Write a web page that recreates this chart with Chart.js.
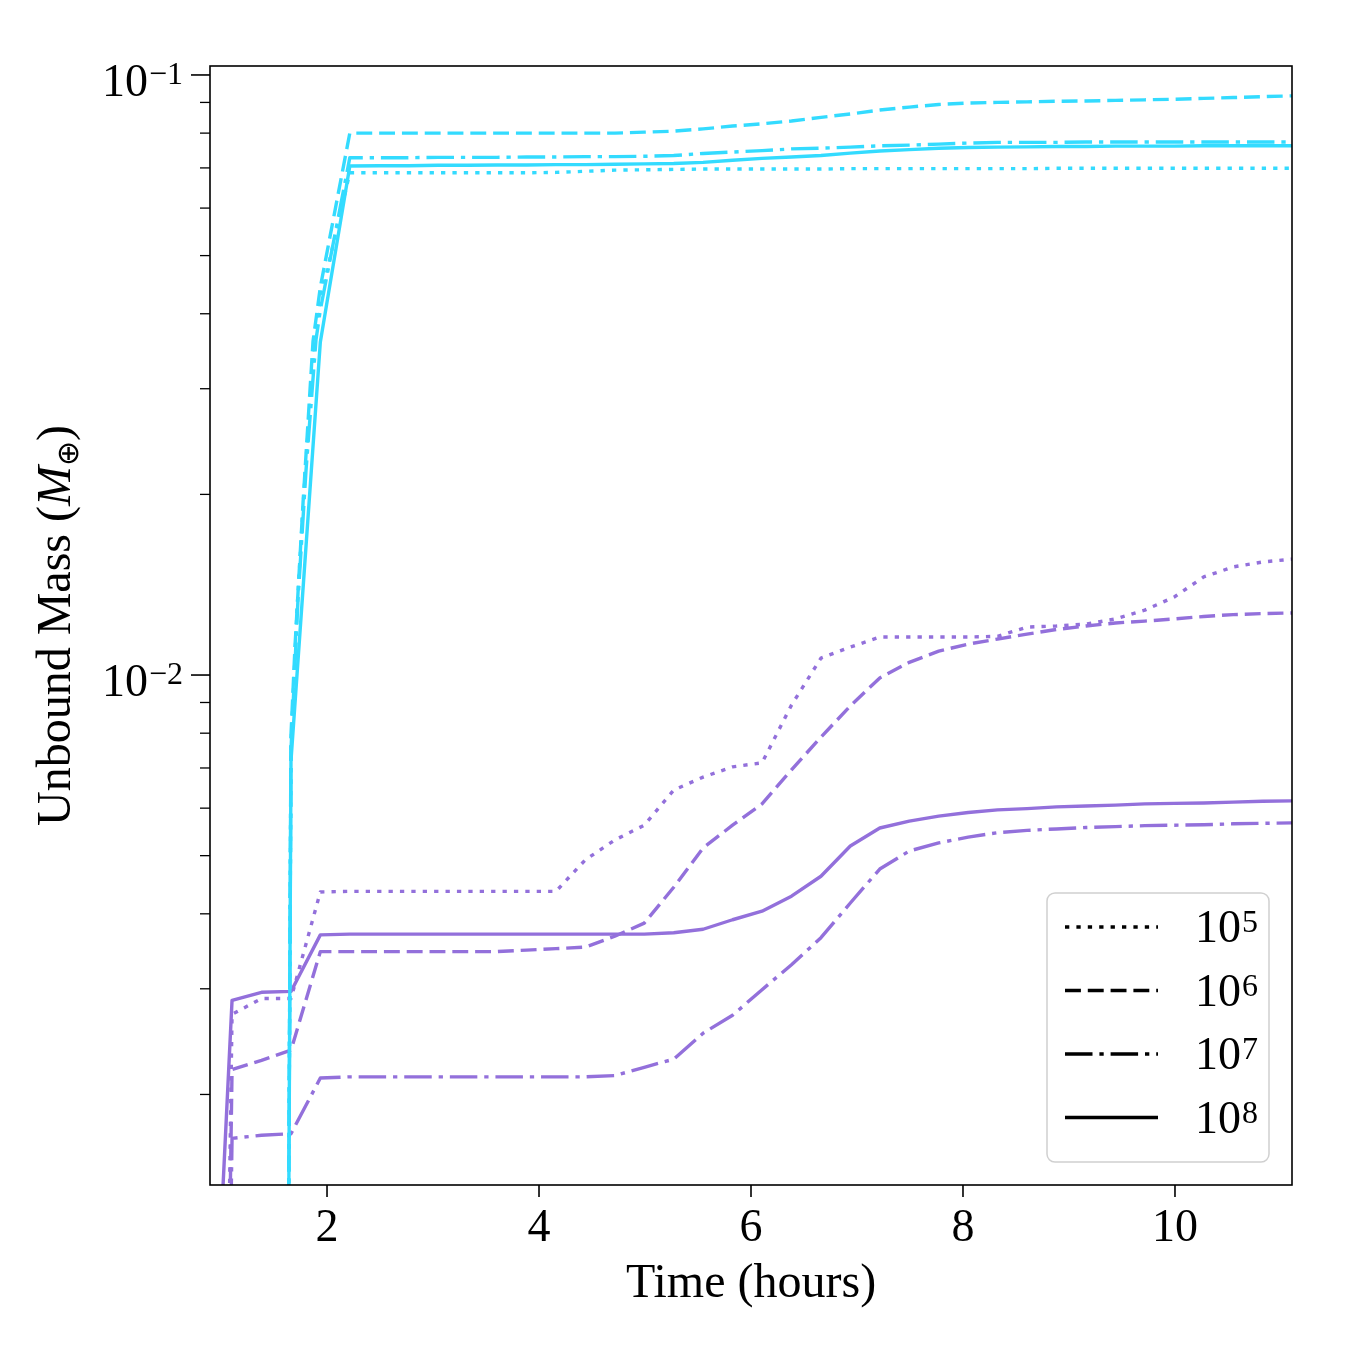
<!DOCTYPE html>
<html><head><meta charset="utf-8">
<script src="https://cdn.jsdelivr.net/npm/chart.js@4.4.1/dist/chart.umd.min.js"></script>
<style>html,body{margin:0;padding:0;background:#fff;} #wrap{width:1350px;height:1350px;}</style>
</head><body><div id="wrap"><canvas id="c" width="1350" height="1350"></canvas></div>
<script>
// ---------------- DATA ----------------
const hours = [0.826, 1.104, 1.382, 1.660, 1.937, 2.215, 2.493, 2.771, 3.048, 3.326, 3.604, 3.882,
  4.160, 4.437, 4.715, 4.993, 5.271, 5.548, 5.826, 6.104, 6.382, 6.660, 6.937, 7.215, 7.493, 7.771,
  8.049, 8.326, 8.604, 8.882, 9.160, 9.438, 9.715, 9.993, 10.271, 10.549, 10.826, 11.104];

// purple runs (on the hours grid)
const purple1e5 = [1e-6, 0.00272, 0.00289, 0.00289, 0.00435, 0.00436, 0.00436, 0.00436, 0.00436, 0.00436,
  0.00436, 0.00436, 0.00436, 0.00492, 0.00531, 0.00562, 0.00643, 0.00676, 0.00703, 0.00714, 0.00891,
  0.01067, 0.01113, 0.01157, 0.01157, 0.01157, 0.01157, 0.01160, 0.01202, 0.01207, 0.01216, 0.01240,
  0.01283, 0.01349, 0.01457, 0.01514, 0.01543, 0.01560];
const purple1e6 = [1e-6, 0.00220, 0.00228, 0.00237, 0.00346, 0.00346, 0.00346, 0.00346, 0.00346, 0.00346,
  0.00346, 0.00348, 0.00350, 0.00352, 0.00367, 0.00386, 0.00443, 0.00515, 0.00562, 0.00610, 0.00695,
  0.00788, 0.00888, 0.00989, 0.01050, 0.01096, 0.01126, 0.01148, 0.01170, 0.01191, 0.01207, 0.01221,
  0.01230, 0.01240, 0.01252, 0.01261, 0.01266, 0.01269];
const purple1e7 = [1e-6, 0.00169, 0.00171, 0.00172, 0.00213, 0.00214, 0.00214, 0.00214, 0.00214, 0.00214,
  0.00214, 0.00214, 0.00214, 0.00214, 0.00215, 0.00222, 0.00229, 0.00253, 0.00271, 0.00299, 0.00329,
  0.00365, 0.00417, 0.00475, 0.00509, 0.00525, 0.00537, 0.00546, 0.00551, 0.00554, 0.00557, 0.00559,
  0.00561, 0.00562, 0.00563, 0.00565, 0.00566, 0.00567];
const purple1e8 = [2.8e-4, 0.00287, 0.00296, 0.00297, 0.00369, 0.00370, 0.00370, 0.00370, 0.00370, 0.00370,
  0.00370, 0.00370, 0.00370, 0.00370, 0.00370, 0.00370, 0.00372, 0.00377, 0.00391, 0.00404, 0.00428,
  0.00462, 0.00519, 0.00556, 0.00571, 0.00582, 0.00590, 0.00596, 0.00599, 0.00603, 0.00605, 0.00607,
  0.00610, 0.00611, 0.00612, 0.00614, 0.00616, 0.00617];

// cyan runs
const cyan1e8 = [1e-12, 1e-12, 1e-12, 0.0072, 0.0359, 0.0705, 0.0706, 0.0706, 0.0707, 0.0707, 0.0708,
  0.0708, 0.0709, 0.0709, 0.0710, 0.0711, 0.0712, 0.0715, 0.0721, 0.0726, 0.0730, 0.0734, 0.0741,
  0.0747, 0.0751, 0.0755, 0.0757, 0.0758, 0.0759, 0.0760, 0.0760, 0.0761, 0.0761, 0.0761, 0.0762,
  0.0762, 0.0762, 0.0762];
const cyan1e6Hours = [0.826, 1.104, 1.382, 1.660, 1.698, 1.774, 1.868, ...hours.slice(4)];
const cyan1e6 = [1e-12, 1e-12, 1e-12, 0.00794, 0.01117, 0.0194, 0.0360, 0.0443, 0.0800,
  0.0800, 0.0800, 0.0800, 0.0800, 0.0800, 0.0800, 0.0800, 0.0800, 0.0800,
  0.0803, 0.0806, 0.0813, 0.0822, 0.0829, 0.0838, 0.0850, 0.0861, 0.0874, 0.0884, 0.0893, 0.0898,
  0.0900, 0.0902, 0.0904, 0.0905, 0.0907, 0.0909, 0.0911, 0.0914, 0.0917, 0.0920, 0.0923];
const cyan1e5Hours = [0.826, 1.104, 1.382, 1.660, 1.717, 1.792, 1.887, ...hours.slice(4)];
const cyan1e5 = [1e-12, 1e-12, 1e-12, 0.00764, 0.01283, 0.02154, 0.0369, 0.0422, 0.0687,
  0.0687, 0.0687, 0.0687, 0.0687, 0.0687, 0.0687, 0.0688, 0.0691, 0.0694, 0.0695, 0.0696,
  0.0697, 0.0697, 0.0697, 0.0697, 0.0697, 0.0698, 0.0698, 0.0698, 0.0698, 0.0698, 0.0698, 0.0698,
  0.0699, 0.0699, 0.0699, 0.0699, 0.0699, 0.0699, 0.0699, 0.0699, 0.0699];
const cyan1e7Hours = [0.826, 1.104, 1.382, 1.660, 1.726, 1.802, 1.896, ...hours.slice(4)];
const cyan1e7 = [1e-12, 1e-12, 1e-12, 0.0075, 0.01334, 0.02196, 0.0362, 0.0406, 0.0728,
  0.0728, 0.0728, 0.0729, 0.0729, 0.0729, 0.0730, 0.0730, 0.0731, 0.0731,
  0.0732, 0.0734, 0.0740, 0.0744, 0.0748, 0.0753, 0.0755, 0.0758, 0.0762, 0.0764, 0.0767, 0.0770,
  0.0772, 0.0772, 0.0772, 0.0773, 0.0773, 0.0773, 0.0773, 0.0773, 0.0773, 0.0773, 0.0773];

const xTickValues = [2, 4, 6, 8, 10];
const yMajorValues = [0.01, 0.1];
const yMajorExponents = ['\u22122', '\u22121'];
const yMinorValues = [0.002, 0.003, 0.004, 0.005, 0.006, 0.007, 0.008, 0.009,
  0.02, 0.03, 0.04, 0.05, 0.06, 0.07, 0.08, 0.09];
const legendStyles = ['dotted', 'dashed', 'dashdot', 'solid'];
const legendExponents = ['5', '6', '7', '8'];
const xTitle = 'Time (hours)';
const X_MIN = 0.896, X_MAX = 11.104;
const Y_MIN = 0.001413, Y_MAX = 0.1035;

// ---------------- STYLE ----------------
const FONT = '"Liberation Serif", "Times New Roman", serif';
const PURPLE = '#9370DB', CYAN = '#33DBFF';
const LW = 3.4;
const DASH = { dotted: [4.3, 7.1], dashed: [15.9, 6.9], dashdot: [27.5, 6.9, 4.3, 6.9], solid: [] };

function ds(label, times, vals, color, style) {
  if (times.length !== vals.length) console.error('length mismatch', label, times.length, vals.length);
  return {
    label, data: times.map((t, i) => ({ x: t, y: vals[i] })),
    borderColor: color, borderWidth: LW, borderDash: DASH[style],
    borderJoinStyle: 'round', borderCapStyle: 'butt',
    pointRadius: 0, pointHoverRadius: 0, fill: false, tension: 0
  };
}

const decor = {
  id: 'decor',
  afterDraw(chart) {
    const ctx = chart.ctx, a = chart.chartArea, xs = chart.scales.x, ys = chart.scales.y;
    ctx.save();
    ctx.strokeStyle = '#000'; ctx.fillStyle = '#000'; ctx.setLineDash([]);
    // spines
    ctx.lineWidth = 1.6;
    ctx.strokeRect(a.left, a.top, a.right - a.left, a.bottom - a.top);
    // x ticks
    ctx.lineWidth = 1.6;
    ctx.font = '46px ' + FONT; ctx.textAlign = 'center'; ctx.textBaseline = 'alphabetic';
    xTickValues.forEach(v => {
      const px = xs.getPixelForValue(v);
      ctx.beginPath(); ctx.moveTo(px, a.bottom); ctx.lineTo(px, a.bottom + 12); ctx.stroke();
      ctx.fillText(String(v), px, a.bottom + 56);
    });
    // y minor ticks
    ctx.lineWidth = 1.3;
    yMinorValues.forEach(v => {
      const py = ys.getPixelForValue(v);
      if (py < a.top || py > a.bottom) return;
      ctx.beginPath(); ctx.moveTo(a.left, py); ctx.lineTo(a.left - 10, py); ctx.stroke();
    });
    // y major ticks + labels
    ctx.lineWidth = 1.6;
    yMajorValues.forEach((v, i) => {
      const py = ys.getPixelForValue(v);
      ctx.beginPath(); ctx.moveTo(a.left, py); ctx.lineTo(a.left - 19, py); ctx.stroke();
      ctx.textAlign = 'left';
      ctx.font = '46px ' + FONT; const w10 = ctx.measureText('10').width;
      ctx.font = '32px ' + FONT; const ws = ctx.measureText(yMajorExponents[i]).width;
      const x0 = a.left - 27 - (w10 + 1 + ws);
      ctx.font = '46px ' + FONT; ctx.fillText('10', x0, py + 21);
      ctx.font = '32px ' + FONT; ctx.fillText(yMajorExponents[i], x0 + w10 + 1, py + 9);
    });
    // x title
    ctx.font = '48px ' + FONT; ctx.textAlign = 'center';
    ctx.fillText(xTitle, (a.left + a.right) / 2, a.bottom + 112);
    // y title
    ctx.save();
    ctx.translate(70, (a.top + a.bottom) / 2);
    ctx.rotate(-Math.PI / 2);
    ctx.textAlign = 'left';
    const parts = [
      { t: 'Unbound Mass (', f: '48px ' + FONT, dy: 0 },
      { t: 'M', f: 'italic 48px ' + FONT, dy: 0 },
      { t: '\u2295', f: '30px ' + FONT, dy: 8 },
      { t: ')', f: '48px ' + FONT, dy: 0 }
    ];
    let total = 0;
    parts.forEach(p => { ctx.font = p.f; p.w = ctx.measureText(p.t).width; total += p.w; });
    let cx = -total / 2;
    parts.forEach(p => { ctx.font = p.f; ctx.fillText(p.t, cx, p.dy); cx += p.w; });
    ctx.restore();
    // legend
    const bx = a.right - 245, by = a.bottom - 292, bw = 222, bh = 269, r = 8;
    ctx.beginPath();
    ctx.moveTo(bx + r, by); ctx.lineTo(bx + bw - r, by); ctx.arcTo(bx + bw, by, bx + bw, by + r, r);
    ctx.lineTo(bx + bw, by + bh - r); ctx.arcTo(bx + bw, by + bh, bx + bw - r, by + bh, r);
    ctx.lineTo(bx + r, by + bh); ctx.arcTo(bx, by + bh, bx, by + bh - r, r);
    ctx.lineTo(bx, by + r); ctx.arcTo(bx, by, bx + r, by, r); ctx.closePath();
    ctx.fillStyle = 'rgba(255,255,255,0.85)'; ctx.fill();
    ctx.strokeStyle = '#d0d0d0'; ctx.lineWidth = 1.5; ctx.stroke();
    ctx.fillStyle = '#000'; ctx.strokeStyle = '#000';
    legendStyles.forEach((s, i) => {
      const ly = by + 34 + i * 63.5;
      ctx.lineWidth = LW; ctx.setLineDash(DASH[s]); ctx.lineCap = 'butt';
      ctx.beginPath(); ctx.moveTo(bx + 18, ly); ctx.lineTo(bx + 111, ly); ctx.stroke();
      ctx.setLineDash([]);
      ctx.textAlign = 'left';
      ctx.font = '46px ' + FONT; const w10 = ctx.measureText('10').width;
      ctx.fillText('10', bx + 148, ly + 15);
      ctx.font = '32px ' + FONT; ctx.fillText(legendExponents[i], bx + 148 + w10 + 1, ly + 5);
    });
    ctx.restore();
  }
};

new Chart(document.getElementById('c').getContext('2d'), {
  type: 'line',
  data: {
    datasets: [
      ds('cyan 1e5', cyan1e5Hours, cyan1e5, CYAN, 'dotted'),
      ds('cyan 1e6', cyan1e6Hours, cyan1e6, CYAN, 'dashed'),
      ds('cyan 1e7', cyan1e7Hours, cyan1e7, CYAN, 'dashdot'),
      ds('cyan 1e8', hours, cyan1e8, CYAN, 'solid'),
      ds('purple 1e5', hours, purple1e5, PURPLE, 'dotted'),
      ds('purple 1e6', hours, purple1e6, PURPLE, 'dashed'),
      ds('purple 1e7', hours, purple1e7, PURPLE, 'dashdot'),
      ds('purple 1e8', hours, purple1e8, PURPLE, 'solid')
    ]
  },
  options: {
    responsive: false, animation: false, devicePixelRatio: 1,
    layout: { padding: { left: 210, top: 66, right: 58, bottom: 165 } },
    plugins: { legend: { display: false }, tooltip: { enabled: false } },
    scales: {
      x: { type: 'linear', min: X_MIN, max: X_MAX, display: false },
      y: { type: 'logarithmic', min: Y_MIN, max: Y_MAX, display: false }
    }
  },
  plugins: [decor]
});
</script></body></html>
